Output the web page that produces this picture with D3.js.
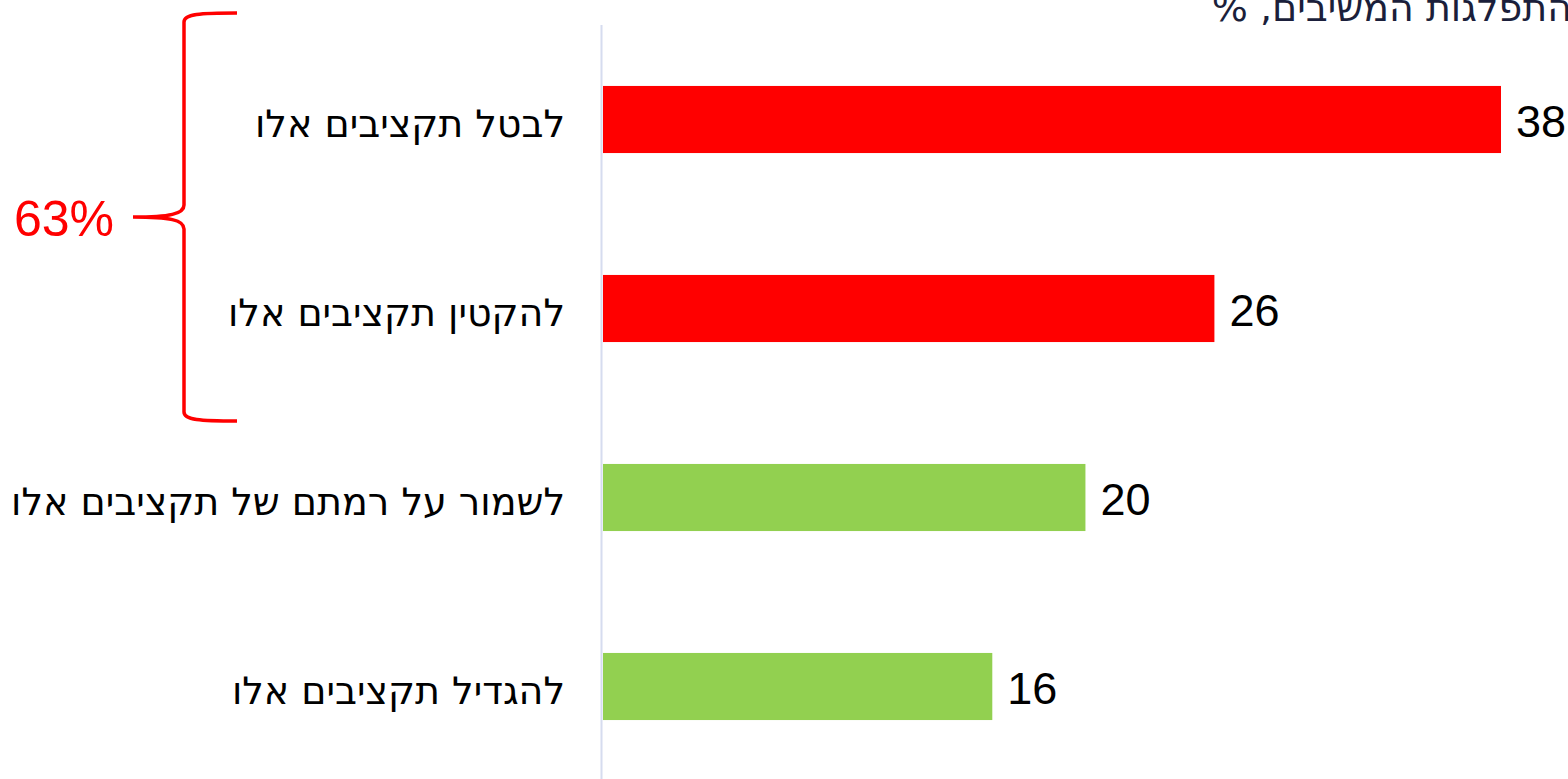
<!DOCTYPE html>
<html>
<head>
<meta charset="utf-8">
<script src="https://cdn.jsdelivr.net/npm/d3@7"></script>
<style>
  body { margin: 0; background: #fff; overflow: hidden; }
  text { font-family: "Liberation Sans", "DejaVu Sans", sans-serif; }
  text.heb { font-family: "DejaVu Sans", sans-serif; }
</style>
</head>
<body>
<div id="chart"></div>
<script>
// data
var categories = ["לבטל תקציבים אלו", "להקטין תקציבים אלו", "לשמור על רמתם של תקציבים אלו", "להגדיל תקציבים אלו"]
var values = [37.6, 25.6, 20.2, 16.3]
var valueLabels = ["38", "26", "20", "16"]
var barColors = ["#ff0000", "#ff0000", "#92d050", "#92d050"]
var title = "התפלגות המשיבים, %"
var braceLabel = "63%"

var width = 1568, height = 779
var svg = d3.select("#chart")
  .append("svg")
    .attr("width", width)
    .attr("height", height)

var x = d3.scaleLinear()
  .domain([0, 37.6])
  .range([603, 1501])

var y = d3.scaleBand()
  .domain(categories)
  .range([25, 781])
  .paddingInner(0.645)
  .paddingOuter(0.3225)

// axis line
svg.append("line")
  .attr("x1", 601.5).attr("x2", 601.5)
  .attr("y1", 25).attr("y2", height)
  .style("stroke", "#d6dcef")
  .style("stroke-width", 2)

svg.selectAll("rect.bar")
  .data(values)
  .enter()
  .append("rect")
    .attr("class", "bar")
    .attr("x", x(0))
    .attr("y", function(d, i) { return y(categories[i]) })
    .attr("width", function(d) { return x(d) - x(0) })
    .attr("height", y.bandwidth())
    .style("fill", function(d, i) { return barColors[i] })

// value labels
svg.selectAll("text.val")
  .data(values)
  .enter()
  .append("text")
    .attr("class", "val")
    .attr("x", function(d) { return x(d) + 15 })
    .attr("y", function(d, i) { return y(categories[i]) + y.bandwidth() / 2 + 17 })
    .style("font-size", "45px")
    .style("fill", "#000")
    .text(function(d, i) { return valueLabels[i] })

// category labels
svg.selectAll("text.cat")
  .data(categories)
  .enter()
  .append("text")
    .attr("class", "cat heb")
    .attr("direction", "rtl")
    .attr("text-anchor", "start")
    .attr("x", 565)
    .attr("y", function(d) { return y(d) + y.bandwidth() / 2 + 17 })
    .style("font-size", "38px")
    .style("fill", "#000")
    .text(function(d) { return d })

// title (clipped at the top right)
svg.append("text")
  .attr("class", "heb")
  .attr("direction", "rtl")
  .attr("text-anchor", "start")
  .attr("x", 1572)
  .attr("y", 21)
  .style("font-size", "38px")
  .style("fill", "#1b1f3b")
  .text(title)

// brace round the first two bars
var braceTop = y(categories[0]) - 73
var braceBottom = y(categories[1]) + y.bandwidth() + 79
var mid = (braceTop + braceBottom) / 2
var bx = 184, tipX = 133, endX = 237
var brace = d3.path()
brace.moveTo(endX, braceTop)
brace.bezierCurveTo(200, braceTop, bx, braceTop + 1, bx, braceTop + 9)
brace.lineTo(bx, mid - 12)
brace.bezierCurveTo(bx, mid - 3, 170, mid, tipX, mid)
brace.bezierCurveTo(170, mid, bx, mid + 3, bx, mid + 12)
brace.lineTo(bx, braceBottom - 9)
brace.bezierCurveTo(bx, braceBottom - 1, 200, braceBottom, endX, braceBottom)
svg.append("path")
  .attr("d", brace.toString())
  .style("fill", "none")
  .style("stroke", "#ff0000")
  .style("stroke-width", 3.5)

svg.append("text")
  .attr("x", 14)
  .attr("y", mid + 19)
  .style("font-size", "50px")
  .style("fill", "#ff0000")
  .text(braceLabel)
</script>
</body>
</html>
